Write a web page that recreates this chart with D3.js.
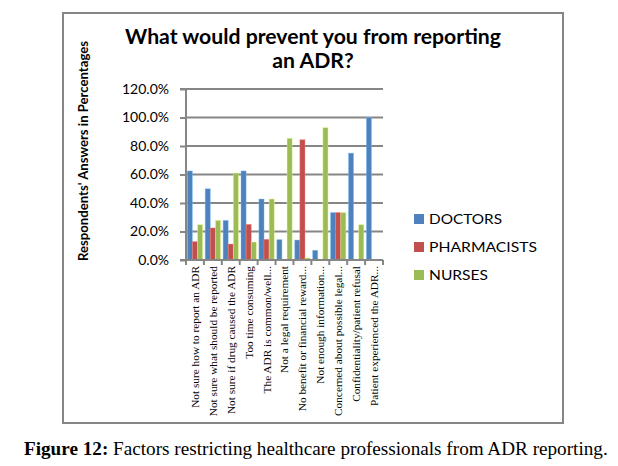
<!DOCTYPE html>
<html><head><meta charset="utf-8">
<script src="https://cdn.jsdelivr.net/npm/d3@7"></script>
<style>body{margin:0;background:#fff}svg{display:block}</style>
</head><body>
<svg id="c" width="618" height="466"></svg>
<script>
const categories = [
  "Not sure how to report an ADR",
  "Not sure what should be reported",
  "Not sure if drug caused the ADR",
  "Too time consuming",
  "The ADR is common/well...",
  "Not a legal requirement",
  "No benefit or financial reward...",
  "Not enough information...",
  "Concerned about possible legal...",
  "Confidentiality/patient refusal",
  "Patient experienced the ADR..."
];
const seriesNames = ["DOCTORS", "PHARMACISTS", "NURSES"];
const doctors     = [62.5, 50.0, 27.8, 62.5, 42.8, 14.3, 14.0, 6.8, 33.3, 75.0, 100.0];
const pharmacists = [12.9, 22.5, 11.2, 25.0, 14.5, 0, 84.4, 0, 33.3, 0, 0];
const nurses      = [24.8, 27.8, 61.0, 12.6, 42.8, 85.4, 1.4, 92.9, 33.3, 24.8, 0];
const yTicks = [0, 20, 40, 60, 80, 100, 120];
const colors = ["#4F81BD", "#C0504D", "#9BBB59"];
const titleLines = ["What would prevent you from reporting", "an ADR?"];
const yTitle = "Respondents' Answers in Percentages";
const captionBold = "Figure 12:";
const captionRest = " Factors restricting healthcare professionals from ADR reporting.";

const svg = d3.select("#c");
const sans = "Lato, 'Open Sans', sans-serif";
const serif = "'Liberation Serif', 'DejaVu Serif', serif";

function fit(sel, w) {
  const n = sel.node();
  const fs = parseFloat(sel.attr("font-size"));
  const l = n.getComputedTextLength();
  sel.attr("font-size", (fs * w / l).toFixed(2));
}

// outer frame
svg.append("rect").attr("x", 63).attr("y", 13).attr("width", 500).attr("height", 410)
  .attr("fill", "#fff").attr("stroke", "#868686").attr("stroke-width", 2);

const L = 186, R = 383, T = 89, B = 260;
const x = d3.scaleBand().domain(categories).range([L, R]).paddingInner(0).paddingOuter(0);
const y = d3.scaleLinear().domain([0, 120]).range([B, T]);
const xs = d3.scaleBand().domain(seriesNames).range([0, x.bandwidth()]).paddingInner(0).paddingOuter(0.25);

// gridlines
svg.append("g").selectAll("line").data(yTicks.filter(d => d > 0)).join("line")
  .attr("x1", L).attr("x2", R).attr("y1", d => y(d)).attr("y2", d => y(d))
  .attr("stroke", "#868686").attr("stroke-width", 2);

// bars
const data = [doctors, pharmacists, nurses];
const gb = svg.append("g");
seriesNames.forEach((s, si) => {
  gb.append("g").selectAll("rect").data(categories.map((c, i) => ({c, v: data[si][i]}))).join("rect")
    .attr("x", d => x(d.c) + xs(s))
    .attr("width", xs.bandwidth())
    .attr("y", d => y(d.v))
    .attr("height", d => B - y(d.v))
    .attr("fill", colors[si])
    .attr("stroke", d3.color(colors[si]).brighter(1.2))
    .attr("stroke-opacity", d => d.v > 0 ? 0.5 : 0)
    .attr("stroke-width", 0.8);
});

// y axis
const yAxis = d3.axisLeft(y).tickValues(yTicks).tickFormat(d => d3.format(".1f")(d) + "%").tickSize(6).tickPadding(11);
const ya = svg.append("g").attr("transform", `translate(${L},0)`).call(yAxis);
ya.select(".domain").attr("stroke", "#868686").attr("stroke-width", 2).attr("d", `M-6,${B}H0V${T}H-6`);
ya.selectAll(".tick line").attr("stroke", "#868686").attr("stroke-width", 2);
ya.selectAll(".tick text").attr("font-family", sans).attr("font-size", 14).attr("fill", "#000");

// x axis
const xa = svg.append("g").attr("transform", `translate(0,${B})`);
xa.append("line").attr("x1", L).attr("x2", R).attr("stroke", "#868686").attr("stroke-width", 2);
xa.selectAll("line.tk").data(categories.concat(["__end"])).join("line").attr("class", "tk")
  .attr("x1", (d, i) => L + i * x.step()).attr("x2", (d, i) => L + i * x.step())
  .attr("y1", 0).attr("y2", 5).attr("stroke", "#868686").attr("stroke-width", 2);
xa.selectAll("text").data(categories).join("text")
  .attr("transform", d => `translate(${x(d) + x.bandwidth() / 2},6) rotate(-90)`)
  .attr("text-anchor", "end").attr("dy", "0.35em")
  .attr("font-family", serif).attr("font-size", 11.3).attr("fill", "#000")
  .text(d => d);

// title
const tl = svg.append("g");
const t1 = tl.append("text").attr("x", 313).attr("y", 44).attr("text-anchor", "middle")
  .attr("font-family", sans).attr("font-weight", "bold").attr("font-size", 18).attr("fill", "#000").text(titleLines[0]);
fit(t1, 376);
const fsT = t1.attr("font-size");
tl.append("text").attr("x", 313).attr("y", 68).attr("text-anchor", "middle")
  .attr("font-family", sans).attr("font-weight", "bold").attr("font-size", fsT).attr("fill", "#000").text(titleLines[1]);

// y title
svg.append("text").attr("transform", "translate(88,151) rotate(-90)").attr("text-anchor", "middle")
  .attr("font-family", sans).attr("font-weight", "bold").attr("font-size", 13).attr("fill", "#000")
  .attr("textLength", 220).attr("lengthAdjust", "spacingAndGlyphs").text(yTitle);

// legend
const lg = svg.append("g");
const legY = [219, 247, 275];
const legW = [73, 108, 59];
seriesNames.forEach((s, i) => {
  lg.append("rect").attr("x", 414).attr("y", legY[i] - 5).attr("width", 10).attr("height", 10).attr("fill", colors[i]);
  lg.append("text").attr("x", 429).attr("y", legY[i]).attr("dy", "0.36em")
    .attr("font-family", sans).attr("font-size", 14).attr("fill", "#000")
    .attr("textLength", legW[i]).attr("lengthAdjust", "spacingAndGlyphs").text(s);
});

// caption
const cap = svg.append("text").attr("x", 24).attr("y", 455).attr("font-family", serif).attr("font-size", 16).attr("fill", "#000");
cap.append("tspan").attr("font-weight", "bold").text(captionBold);
cap.append("tspan").text(captionRest);
fit(cap, 584);
</script>
</body></html>
